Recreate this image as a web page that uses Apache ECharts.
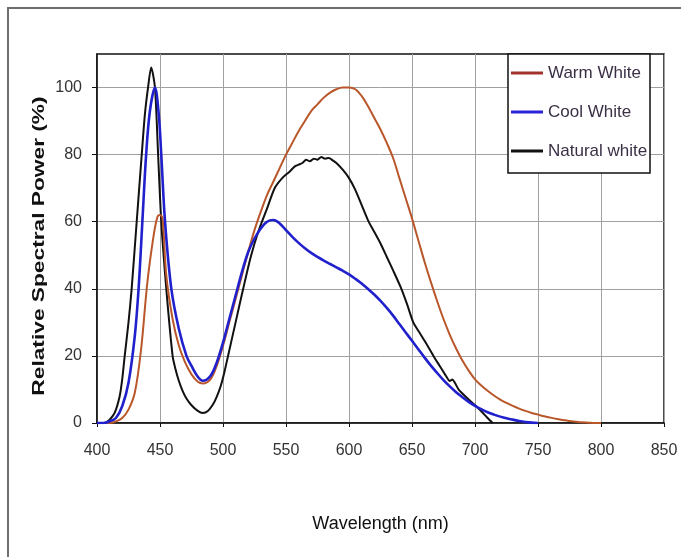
<!DOCTYPE html>
<html>
<head>
<meta charset="utf-8">
<title>Relative Spectral Power</title>
<script src="https://cdn.jsdelivr.net/npm/echarts@6/dist/echarts.min.js"></script>
<style>
  html, body { margin: 0; padding: 0; background: #ffffff; }
  #chart { width: 681px; height: 557px; }
</style>
</head>
<body>
<div id="chart"></div>
<script>
// Axis ticks
const xTicks = [400, 450, 500, 550, 600, 650, 700, 750, 800, 850];
const yTicks = [0, 20, 40, 60, 80, 100];

// Series names
const seriesNames = ['Warm White', 'Cool White', 'Natural white'];

// Warm White spectrum (wavelength nm, relative power %)
const warmWl = [400, 410, 415, 420, 425, 430, 435, 440, 445, 448, 450, 452, 455, 460, 465, 470, 475, 480, 484,
  490, 495, 500, 505, 510, 515, 520, 525, 530, 535, 540, 545, 550, 555, 560, 565, 570, 575, 580, 585, 590,
  595, 600, 605, 610, 615, 620, 625, 630, 635, 640, 645, 650, 655, 660, 665, 670, 675, 680, 685, 690, 695,
  700, 705, 710, 715, 720, 725, 730, 735, 740, 745, 750, 755, 760, 765, 770, 775, 780, 785, 790, 795, 800];
const warmVal = [0, 0, 0.5, 1.5, 4, 9, 22, 42, 56, 61.5, 62, 61, 44, 31, 23, 18, 14.5, 12.3, 11.8,
  13, 17, 23, 30, 37, 44, 51, 57.5, 63, 68, 72, 76, 80, 83.5, 87, 90, 93, 95, 97, 98.5, 99.5,
  100, 100, 99.5, 97.5, 94.5, 91, 87.5, 83.5, 79, 73, 67, 61, 54.5, 48, 42, 36.3, 31, 26.3, 22.2, 18.6, 15.6,
  13, 11.2, 9.6, 8.2, 7, 6, 5.1, 4.3, 3.6, 3, 2.5, 2, 1.6, 1.2, 0.9, 0.6, 0.4, 0.2, 0.1, 0, 0];

// Cool White spectrum
const coolWl = [400, 405, 410, 415, 420, 425, 430, 433, 436, 439, 442, 446, 449, 451, 454, 459, 465, 471, 475,
  480, 484, 490, 495, 500, 505, 510, 515, 520, 525, 530, 535, 540, 545, 550, 555, 560, 565, 570, 575, 580,
  585, 590, 595, 600, 605, 610, 615, 620, 625, 630, 635, 640, 645, 650, 655, 660, 665, 670, 675, 680, 685,
  690, 695, 700, 705, 710, 715, 720, 725, 730, 735, 740, 745, 750];
const coolVal = [0, 0, 0.5, 1.5, 5, 12, 26, 40, 60, 80, 93, 100, 92, 80, 60, 40, 28, 20, 17,
  13.8, 12.6, 14, 18, 24, 31, 38, 45, 51, 55, 58, 60, 60.5, 59.5, 57.5, 55.5, 53.7, 52.1, 50.7, 49.5, 48.4,
  47.4, 46.4, 45.4, 44.3, 43, 41.6, 40, 38.3, 36.4, 34.3, 32, 29.5, 27, 24.5, 22, 19.5, 17.1, 14.9, 12.8, 10.9, 9.2,
  7.7, 6.3, 5.1, 4.1, 3.2, 2.5, 1.9, 1.4, 1, 0.6, 0.3, 0.1, 0];

// Natural white spectrum
const natWl = [400, 406, 410, 414, 418, 420, 422, 425, 427.5, 431.5, 435.5, 438, 440.5, 443, 446, 448.5, 451, 455,
  460, 462, 465, 468, 471, 475, 480, 484, 488, 492, 495, 498, 501, 504, 510, 516, 522, 528, 535, 541, 547, 553, 557,
  560, 563, 566, 569, 572, 575, 578, 581, 584, 587, 590, 595, 600, 605, 610, 615, 620, 625, 630, 635,
  641, 646, 651, 655, 660, 667, 672, 677, 680, 682, 684, 687, 690, 695, 701, 705, 710, 714];
const natVal = [0, 0, 1, 3, 8, 13, 20, 30, 40, 60, 80, 92, 100, 106, 100, 80, 60, 40,
  20, 16.5, 12.5, 9.5, 7.3, 5.3, 3.6, 3, 3.6, 5.5, 7.8, 10.8, 15, 20, 30, 40, 49.5, 57, 64, 70, 73, 75, 76.5,
  77, 77.5, 78.5, 78, 78.8, 78.5, 79.3, 78.8, 79, 78.3, 77.5, 75.5, 73, 69.5, 65, 60.5, 57, 53.5, 49.5, 45.5,
  40.5, 35.5, 30, 27.5, 24.5, 20, 17, 14, 12.5, 13, 12, 10, 8.8, 7, 5, 3.5, 1.5, 0];

const colors = ['#b9572a', '#2020cc', '#111111'];
const legendColors = ['#a3322c', '#2a22d6', '#111111'];
const FONT = "'Liberation Sans', Arial, sans-serif";

const pairs = (xs, ys) => xs.map((x, i) => [x, ys[i]]);

const chart = echarts.init(document.getElementById('chart'), null, { renderer: 'canvas' });

chart.setOption({
  animation: false,
  backgroundColor: '#ffffff',
  color: colors,
  grid: {
    left: 97, top: 54, right: 17, bottom: 134,
    show: true, borderColor: '#111', borderWidth: 1.5, backgroundColor: 'transparent'
  },
  graphic: [
    // outer frame (top and left edges)
    { type: 'polyline', shape: { points: [[8, 557], [8, 8], [681, 8]] },
      style: { stroke: '#6e6e6e', lineWidth: 2, fill: null }, z: 0 },
    // legend box
    { type: 'rect', shape: { x: 508, y: 54, width: 142, height: 119 },
      style: { fill: '#ffffff', stroke: '#111', lineWidth: 1.5 }, z: 5 },
    // y axis title, stretched along its length
    { type: 'text', x: 40, y: 246, rotation: Math.PI / 2, scaleX: 1.42, scaleY: 1,
      style: { text: 'Relative Spectral Power (%)', font: "bold 16px " + FONT, fill: '#111',
        textAlign: 'center', textVerticalAlign: 'middle' }, z: 6 }
  ],
  legend: {
    orient: 'vertical',
    left: 511, top: 63,
    padding: 0,
    itemWidth: 32, itemHeight: 3,
    itemGap: 19,
    itemTextGap: 3,
    icon: 'rect',
    z: 10,
    textStyle: { fontFamily: FONT, fontSize: 17, color: '#3a2f45', lineHeight: 20 },
    data: seriesNames.map((n, i) => ({ name: n, itemStyle: { color: legendColors[i] } }))
  },
  xAxis: {
    type: 'value', min: 400, max: 850, interval: 50,
    name: 'Wavelength (nm)', nameLocation: 'middle', nameGap: 92,
    nameTextStyle: { fontFamily: FONT, fontSize: 18, color: '#111' },
    axisLine: { show: true, lineStyle: { color: '#111', width: 1.5 } },
    axisTick: { show: true, length: 4, lineStyle: { color: '#111' } },
    axisLabel: { fontFamily: FONT, fontSize: 16, color: '#333', margin: 20 },
    splitLine: { show: true, lineStyle: { color: '#a0a0a0', width: 1 } }
  },
  yAxis: {
    type: 'value', min: 0, max: 110, interval: 20,
    axisLine: { show: true, lineStyle: { color: '#111', width: 1.5 } },
    axisTick: { show: true, length: 5, customValues: yTicks, lineStyle: { color: '#111' } },
    axisLabel: {
      fontFamily: FONT, fontSize: 16, color: '#333', margin: 15, customValues: yTicks,
      formatter: v => (yTicks.indexOf(v) >= 0 ? String(v) : '')
    },
    splitLine: { show: true, lineStyle: { color: '#a0a0a0', width: 1 } }
  },
  series: [
    { name: seriesNames[0], type: 'line', data: pairs(warmWl, warmVal), showSymbol: false, smooth: 0.35,
      lineStyle: { width: 2, color: colors[0] }, z: 3 },
    { name: seriesNames[1], type: 'line', data: pairs(coolWl, coolVal), showSymbol: false, smooth: 0.35,
      lineStyle: { width: 2.6, color: colors[1] }, z: 4 },
    { name: seriesNames[2], type: 'line', data: pairs(natWl, natVal), showSymbol: false, smooth: 0.25,
      lineStyle: { width: 2, color: colors[2] }, z: 2 }
  ]
});
</script>
</body>
</html>
